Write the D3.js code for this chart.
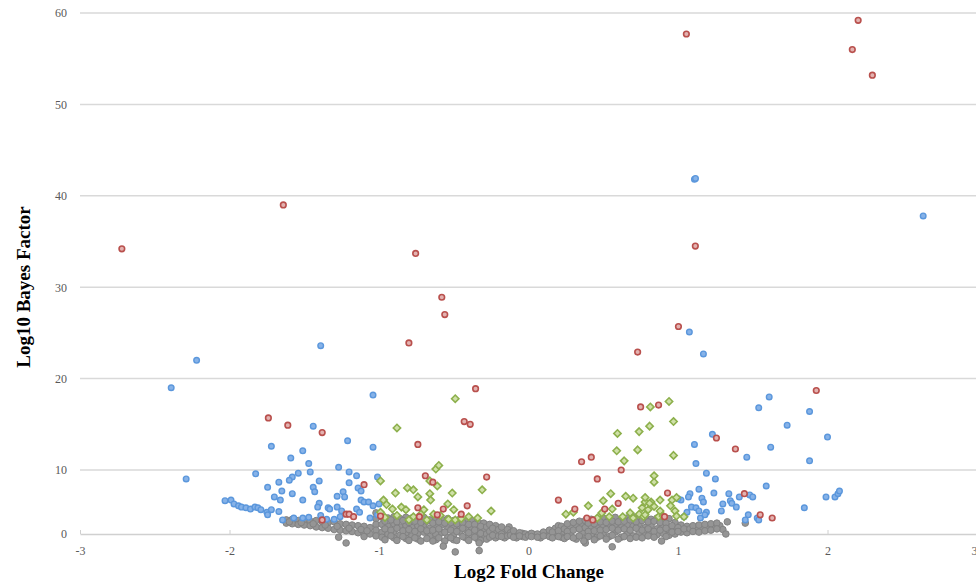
<!DOCTYPE html>
<html>
<head>
<meta charset="utf-8">
<script src="https://cdn.jsdelivr.net/npm/d3@7"></script>
<style>
  body { margin: 0; background: #fff; }
  .title { font-family: "Liberation Serif", serif; font-weight: bold; font-size: 19px; fill: #000; }
</style>
</head>
<body>
<script>
// ticks
var xTicks = [-3, -2, -1, 0, 1, 2, 3];
var yTicks = [0, 10, 20, 30, 40, 50, 60];

// points: [log2 fold change, log10 bayes factor]
var grayPts = [
  [-1.62,2.2],[-1.62,1.7],[-1.58,2.3],[-1.58,1.6],[-1.54,2.1],[-1.54,1.5],[-1.50,2.2],[-1.50,1.4],
  [-1.46,2.0],[-1.46,1.3],[-1.42,2.1],[-1.42,1.1],[-1.38,1.9],[-1.38,1.0],[-1.34,1.8],[-1.34,0.9],
  [-1.30,1.9],[-1.30,0.7],[-1.26,1.6],[-1.26,0.6],[-1.22,1.5],[-1.22,0.5],[-1.18,1.4],[-1.18,0.4],
  [-1.14,1.3],[-1.14,0.2],[-1.10,1.2],[-1.10,0.1],[-1.10,-0.4],[-1.06,1.0],[-1.06,0.0],
  [-1.60,1.9],[-1.52,1.8],[-1.44,1.6],[-1.36,1.4],[-1.28,1.2],[-1.20,0.9],[-1.12,0.7],[-1.08,0.5],
  [-1.27,-0.5],[-1.22,-1.4],
  [-1.02,3.3],[-1.02,2.4],[-1.02,1.5],[-1.02,0.6],[-1.02,-0.3],
  [-0.98,2.6],[-0.98,1.5],[-0.98,0.3],[-0.98,-0.5],[-0.94,2.5],[-0.94,1.2],[-0.94,0.0],
  [-0.90,2.7],[-0.90,1.6],[-0.90,0.4],[-0.90,-0.6],[-0.86,2.4],[-0.86,1.1],[-0.86,-0.2],
  [-0.82,2.6],[-0.82,1.4],[-0.82,0.2],[-0.82,-0.7],[-0.78,2.5],[-0.78,1.0],[-0.78,-0.3],
  [-0.74,2.3],[-0.74,1.3],[-0.74,0.1],[-0.74,-0.8],[-0.70,2.6],[-0.70,1.5],[-0.70,0.3],
  [-0.66,2.2],[-0.66,0.9],[-0.66,-0.4],[-0.62,2.5],[-0.62,1.2],[-0.62,0.0],[-0.62,-0.9],
  [-0.58,2.3],[-0.58,1.4],[-0.58,0.2],[-0.54,2.4],[-0.54,0.8],[-0.54,-0.5],
  [-0.50,2.1],[-0.50,1.1],[-0.50,-0.1],[-0.50,-0.9],[-0.46,2.3],[-0.46,1.3],[-0.46,0.3],
  [-0.42,2.0],[-0.42,0.7],[-0.42,-0.6],[-0.38,2.1],[-0.38,1.0],[-0.38,-0.2],
  [-0.34,1.8],[-0.34,0.5],[-0.34,-0.8],[-0.30,1.7],[-0.30,0.8],[-0.30,-0.3],
  [-0.96,2.0],[-0.96,0.8],[-0.96,-0.9],[-0.92,2.2],[-0.92,0.6],[-0.92,-0.3],
  [-0.88,1.9],[-0.88,0.9],[-0.88,-1.0],[-0.84,2.1],[-0.84,0.5],[-0.84,-0.4],
  [-0.80,1.8],[-0.80,0.7],[-0.80,-1.0],[-0.76,2.0],[-0.76,0.4],[-0.76,-0.6],
  [-0.72,1.8],[-0.72,0.8],[-0.72,-1.1],[-0.68,2.0],[-0.68,0.5],[-0.68,-0.7],
  [-0.64,1.7],[-0.64,0.6],[-0.64,-1.1],[-0.60,1.9],[-0.60,0.8],[-0.60,-0.6],
  [-0.56,1.7],[-0.56,0.3],[-0.56,-1.1],[-0.52,1.8],[-0.52,0.6],[-0.52,-0.6],
  [-0.48,1.6],[-0.48,0.4],[-0.48,-1.0],[-0.44,1.8],[-0.44,0.9],[-0.44,-0.4],
  [-0.40,1.5],[-0.40,0.2],[-0.40,-1.0],[-0.36,1.5],[-0.36,0.6],[-0.36,-0.5],
  [-0.32,1.2],[-0.32,0.1],[-0.32,-1.0],[-0.28,1.1],[-0.28,0.0],[-0.28,-0.8],
  [-0.26,1.5],[-0.26,0.4],[-0.26,-0.5],[-0.22,1.3],[-0.22,0.2],[-0.22,-0.6],
  [-0.24,0.9],[-0.24,-0.2],[-0.20,0.7],[-0.20,-0.3],[-0.16,0.4],[-0.16,-0.6],
  [-0.18,1.1],[-0.18,0.0],[-0.18,-0.4],[-0.13,1.1],[-0.14,0.7],[-0.14,-0.3],
  [-0.12,0.2],[-0.12,-0.2],[-0.08,0.0],[-0.08,-0.6],[-0.04,0.1],[-0.04,-0.4],
  [-0.10,0.5],[-0.10,-0.5],[-0.06,0.2],[-0.06,-0.3],[-0.02,0.0],[-0.02,-0.5],
  [0.00,-0.2],[0.04,-0.1],[0.08,-0.1],[0.08,-0.6],[0.12,0.0],
  [0.02,0.1],[0.02,-0.4],[0.06,0.0],[0.06,-0.5],[0.10,0.3],[0.10,-0.3],
  [0.14,0.6],[0.14,-0.4],[0.18,0.9],[0.18,-0.2],[0.20,1.3],[0.22,1.2],[0.22,0.0],[0.22,-0.5],
  [0.16,0.3],[0.16,-0.6],[0.20,0.5],[0.20,-0.4],[0.24,0.8],[0.24,-0.7],[0.28,1.1],[0.28,0.0],
  [0.32,1.3],[0.32,-0.8],[0.36,1.5],[0.36,0.3],
  [0.26,1.6],[0.26,0.4],[0.26,-0.4],[0.30,1.8],[0.30,0.6],[0.30,-0.6],
  [0.34,2.0],[0.34,0.8],[0.34,-0.3],[0.38,2.1],[0.38,1.0],[0.38,-0.7],
  [0.42,2.3],[0.42,1.2],[0.42,0.0],[0.46,2.2],[0.46,0.9],[0.46,-0.5],
  [0.50,2.5],[0.50,1.3],[0.50,0.2],[0.54,2.4],[0.54,1.1],[0.54,-0.4],
  [0.58,2.6],[0.58,1.5],[0.58,0.3],[0.62,2.3],[0.62,1.0],[0.62,-0.5],
  [0.66,2.5],[0.66,1.4],[0.66,0.1],[0.70,2.7],[0.70,1.2],[0.70,-0.3],
  [0.74,2.4],[0.74,1.6],[0.74,0.2],[0.78,2.6],[0.78,1.0],[0.78,-0.2],
  [0.82,2.3],[0.82,1.4],[0.82,0.4],[0.86,2.5],[0.86,0.8],[0.86,-0.1],
  [0.90,2.2],[0.90,1.2],[0.90,0.1],[0.94,2.4],[0.94,0.6],[0.94,-0.2],
  [0.40,1.7],[0.40,0.4],[0.40,-0.4],[0.44,1.6],[0.44,0.5],[0.44,-0.9],
  [0.48,1.9],[0.48,0.6],[0.48,-0.3],[0.52,1.8],[0.52,0.7],[0.52,-0.8],
  [0.56,2.0],[0.56,0.9],[0.56,-0.2],[0.60,1.9],[0.60,0.6],[0.60,-0.8],
  [0.64,2.0],[0.64,0.8],[0.64,-0.4],[0.68,2.2],[0.68,0.6],[0.68,-0.7],
  [0.72,1.9],[0.72,0.9],[0.72,-0.5],[0.76,2.1],[0.76,0.6],[0.76,-0.6],
  [0.80,1.9],[0.80,0.8],[0.80,-0.3],[0.84,2.0],[0.84,0.4],[0.84,-0.5],
  [0.88,1.8],[0.88,0.6],[0.92,1.7],[0.92,0.9],[0.92,-0.4],
  [0.98,1.8],[0.98,0.8],[0.98,0.0],[1.02,1.4],[1.02,0.3],[1.06,1.2],[1.06,0.2],
  [0.96,1.3],[0.96,0.3],[1.00,1.0],[1.00,0.4],[1.04,0.8],[1.08,0.8],[1.12,0.9],
  [1.16,1.0],[1.20,1.1],[1.24,1.2],[1.28,1.3],[1.30,0.7],
  [1.10,1.3],[1.10,0.4],[1.14,1.4],[1.14,0.3],[1.18,1.5],[1.18,0.5],
  [1.22,1.6],[1.22,0.6],[1.26,1.7],[1.26,0.8],[1.33,1.9],[1.45,1.7],[1.32,0.0],
  [-0.57,-1.9],[-0.49,-2.8],[-0.33,-2.6],[-0.33,-1.4],[0.38,-1.4],[0.56,-2.0],[0.89,-1.1],[0.37,-1.1]
];

var bluePts = [
  [-2.39,19.0],[-2.22,22.0],[-2.29,8.6],[-1.39,23.6],[-1.04,18.2],[-1.44,14.8],[-1.72,12.6],
  [-1.51,12.1],[-1.59,11.3],[-1.47,10.7],[-1.46,9.7],[-1.54,9.5],[-1.58,8.9],[-1.60,8.4],
  [-1.825,9.4],[-1.67,8.1],[-1.40,8.3],[-1.745,7.3],[-1.44,7.3],[-1.43,6.6],[-1.65,6.7],
  [-1.58,6.3],[-1.70,5.8],[-1.66,5.3],[-1.51,5.3],[-1.40,4.8],[-1.41,4.2],
  [-2.03,5.2],[-1.99,5.3],[-1.97,4.7],[-1.94,4.4],[-1.92,4.2],[-1.89,4.1],[-1.86,3.9],
  [-1.83,4.2],[-1.81,4.1],[-1.79,3.8],[-1.75,3.4],[-1.72,3.8],[-1.745,3.0],[-1.67,3.5],
  [-1.645,2.2],[-1.57,2.5],[-1.51,2.5],[-1.47,2.6],[-1.39,2.9],[-1.35,2.3],[-1.34,4.1],
  [-1.21,13.2],[-1.04,12.5],[-1.27,10.3],[-1.20,9.7],[-1.15,9.1],[-1.20,8.0],[-1.01,8.9],
  [-1.14,7.2],[-1.24,6.6],[-1.23,5.8],[-1.28,5.9],[-1.12,6.7],[-1.12,5.3],[-1.10,5.0],
  [-1.07,5.0],[-1.04,4.4],[-1.33,3.9],[-1.28,4.2],[-1.25,3.6],[-1.26,2.7],[-1.15,3.9],
  [-1.13,3.4],[-1.06,2.5],[-1.01,3.0],[-1.00,4.7],[-1.30,2.3],
  [1.11,41.8],[1.117,41.9],[2.64,37.8],[1.076,25.1],[1.17,22.7],[1.61,18.0],[1.54,16.8],
  [1.88,16.4],[1.73,14.9],[1.23,13.9],[2.00,13.6],[1.11,12.8],[1.62,12.5],[1.46,11.4],
  [1.88,11.0],[1.12,10.7],[1.19,9.5],[1.25,8.6],[1.59,7.5],[1.14,7.0],[1.24,6.4],[1.34,6.3],
  [1.08,6.3],[1.07,5.8],[1.16,5.6],[1.17,5.0],[1.02,5.3],[1.41,5.8],[1.48,6.1],[1.50,5.8],
  [1.35,5.2],[1.36,4.8],[1.30,4.7],[1.39,4.2],[1.99,5.8],[2.05,5.8],[2.07,6.3],[2.08,6.7],
  [1.845,4.1],[1.09,4.2],[1.06,3.4],[1.12,4.1],[1.14,3.6],[1.19,3.4],[1.29,3.6],[1.04,2.7],
  [1.15,2.5],[1.18,3.0],[1.47,3.0],[1.45,2.2],[1.53,2.5],[1.54,2.2],[1.00,5.5]
];

var greenPts = [
  [-0.49,17.8],[-0.88,14.6],[-0.62,10.1],[-0.60,10.5],[-0.66,8.3],[-0.61,7.5],[-0.99,8.3],
  [-0.81,7.2],[-0.77,6.9],[-0.31,6.9],[-0.89,6.4],[-0.51,6.4],[-0.74,5.8],[-0.66,6.3],
  [-0.655,5.3],[-0.97,5.3],[-0.95,4.6],[-0.91,3.9],[-0.85,4.2],[-0.82,3.8],[-0.70,3.8],
  [-0.77,2.7],[-0.54,4.7],[-0.50,3.8],[-0.40,2.7],[-0.34,2.5],[-0.25,3.6],[-0.635,3.1],
  [-0.80,2.2],[-0.535,2.3],[-0.49,2.2],[-0.68,2.2],[-0.99,3.4],[-0.96,2.6],[-0.88,2.9],
  [-0.59,2.9],[-0.45,2.4],[-0.72,3.1],
  [0.595,14.0],[0.74,14.2],[0.81,14.8],[0.59,12.1],[0.73,12.2],[0.64,11.0],[0.84,9.1],
  [0.84,8.1],[0.55,6.3],[0.50,5.2],[0.65,5.9],[0.70,5.6],[0.40,4.4],[0.25,3.1],[0.30,3.4],
  [0.49,3.3],[0.56,3.9],[0.68,3.3],[0.74,3.1],[0.78,5.0],[0.82,5.0],[0.76,4.1],[0.80,3.8],
  [0.84,4.3],[0.63,2.7],[0.46,2.5],[0.54,2.7],[0.70,2.5],[0.77,2.7],[0.87,2.7],[0.88,5.3],
  [0.94,17.5],[0.815,16.9],[0.97,15.3],[0.97,11.6],[0.78,5.7],[0.81,4.8],[0.96,5.3],
  [0.99,5.7],[0.95,4.4],[0.98,3.6],[0.88,3.6],[0.90,2.8],[0.99,2.8],[0.78,3.0],[1.04,2.7]
];

var redPts = [
  [-2.72,34.2],[-1.64,39.0],[-0.755,33.7],[-0.58,28.9],[-0.56,27.0],[-0.80,23.9],[-0.354,18.9],
  [-0.43,15.3],[-0.39,15.0],[-0.74,12.8],[-0.28,8.9],[-1.74,15.7],[-1.61,14.9],[-1.38,14.1],
  [-0.69,9.1],[-0.64,8.1],[-0.74,4.1],[-0.73,2.7],[-0.61,3.0],[-0.57,3.9],[-0.45,3.1],
  [-0.41,4.4],[-1.10,7.7],[-1.22,3.1],[-1.20,3.1],[-1.17,2.7],[-1.38,2.2],[-0.99,2.8],
  [1.056,57.7],[2.205,59.2],[2.166,56.0],[2.30,53.2],[1.003,25.7],[0.73,22.9],[1.116,34.5],
  [1.925,18.7],[1.257,13.5],[1.384,12.3],[0.93,6.4],[1.444,6.3],[1.55,3.0],[1.63,2.5],
  [0.87,17.1],[0.75,16.9],[0.91,2.7],[0.355,10.9],[0.42,11.4],[0.62,10.0],[0.46,8.6],
  [0.20,5.3],[0.31,3.9],[0.51,3.9],[0.60,4.8],[0.39,2.5],[0.43,2.2]
];

var W = 976, H = 585;

var svg = d3.select("body").append("svg")
    .attr("width", W)
    .attr("height", H);

var x = d3.scaleLinear().domain([-3, 3]).range([80, 977]);
// the bottom band of the source is squeezed: 0-10 is shorter than the rest
var y = d3.scaleLinear().domain([0, 10, 60]).range([534, 470, 13]);

// plain hyphen for negatives, like the source
var plainNum = function (d) { return String(d); };

// gridlines
svg.append("g")
    .selectAll("line")
    .data(yTicks.slice(1))
  .enter().append("line")
    .attr("x1", x(-3))
    .attr("x2", W)
    .attr("y1", function (d) { return y(d); })
    .attr("y2", function (d) { return y(d); })
    .attr("stroke", "#d9d9d9")
    .attr("stroke-width", 1.5);

// y labels
var gY = svg.append("g")
    .attr("transform", "translate(" + x(-3) + ",0)")
    .call(d3.axisLeft(y).tickValues(yTicks).tickFormat(plainNum).tickSize(0).tickPadding(13));
gY.select(".domain").remove();

// x axis at zero
var gX = svg.append("g")
    .attr("transform", "translate(0," + y(0) + ")")
    .call(d3.axisBottom(x).tickValues(xTicks).tickFormat(plainNum).tickSizeInner(-4).tickSizeOuter(0).tickPadding(12));
gX.select(".domain").attr("stroke", "#d0d0d0").attr("stroke-width", 1.5);
gX.selectAll(".tick line").attr("stroke", "#d0d0d0");
// last label sits on the right edge; nudge it in so it stays visible
gX.selectAll(".tick text").filter(function (d) { return d === 3; }).attr("dx", "-3");

[gX, gY].forEach(function (g) {
  g.selectAll("text")
    .attr("font-family", "Liberation Serif, serif")
    .attr("font-size", 12)
    .attr("fill", "#595959");
});

// points
var plot = svg.append("g");

plot.selectAll(".gray")
    .data(grayPts)
  .enter().append("circle")
    .attr("class", "gray")
    .attr("cx", function (d) { return x(d[0]); })
    .attr("cy", function (d) { return y(d[1]); })
    .attr("r", 3.3)
    .attr("fill", "#959595")
    .attr("stroke", "#828282")
    .attr("stroke-width", 1);

plot.selectAll(".blue")
    .data(bluePts)
  .enter().append("circle")
    .attr("class", "blue")
    .attr("cx", function (d) { return x(d[0]); })
    .attr("cy", function (d) { return y(d[1]); })
    .attr("r", 2.8)
    .attr("fill", "#86b2e8")
    .attr("stroke", "#5b97dc")
    .attr("stroke-width", 1.4);

var diamond = d3.symbol().type(d3.symbolDiamond2).size(34);

plot.selectAll(".green")
    .data(greenPts)
  .enter().append("path")
    .attr("class", "green")
    .attr("transform", function (d) { return "translate(" + x(d[0]) + "," + y(d[1]) + ")"; })
    .attr("d", diamond)
    .attr("fill", "#cfe0a8")
    .attr("stroke", "#8db04c")
    .attr("stroke-width", 1.6);

plot.selectAll(".red")
    .data(redPts)
  .enter().append("circle")
    .attr("class", "red")
    .attr("cx", function (d) { return x(d[0]); })
    .attr("cy", function (d) { return y(d[1]); })
    .attr("r", 2.8)
    .attr("fill", "#e3b2b0")
    .attr("stroke", "#b9504d")
    .attr("stroke-width", 1.6);

// axis titles
svg.append("text")
    .attr("class", "title")
    .attr("x", 529)
    .attr("y", 578)
    .attr("text-anchor", "middle")
    .text("Log2 Fold Change");

svg.append("text")
    .attr("class", "title")
    .attr("transform", "translate(30,287) rotate(-90)")
    .attr("text-anchor", "middle")
    .text("Log10 Bayes Factor");
</script>
</body>
</html>
